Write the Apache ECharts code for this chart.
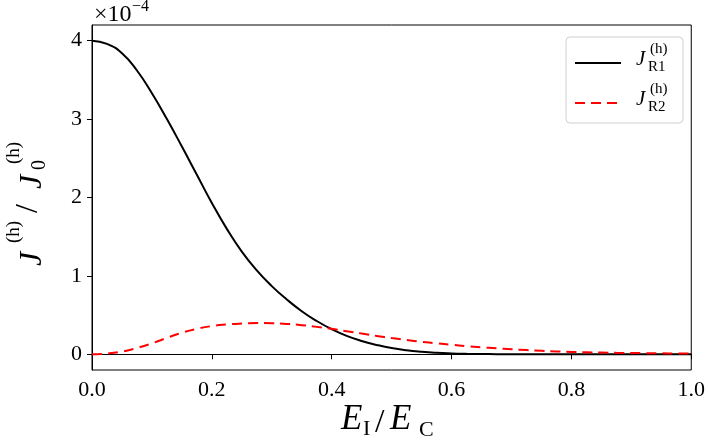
<!DOCTYPE html>
<html>
<head>
<meta charset="utf-8">
<script src="https://cdn.jsdelivr.net/npm/echarts@6/dist/echarts.min.js"></script>
<style>
html,body{margin:0;padding:0;background:#fff;}
#chart{width:708px;height:446px;}
</style>
</head>
<body>
<div id="chart"></div>
<script>
// E_I / E_C values
const eI = [0, 0.025, 0.05, 0.075, 0.1, 0.125, 0.15, 0.175, 0.2, 0.225, 0.25, 0.275, 0.3, 0.325, 0.35, 0.375, 0.4, 0.425, 0.45, 0.475, 0.5, 0.525, 0.55, 0.575, 0.6, 0.625, 0.65, 0.675, 0.7, 0.725, 0.75, 0.775, 0.8, 0.825, 0.85, 0.875, 0.9, 0.925, 0.95, 0.975, 1.0];
// J_R1^(h) in units of 1e-4
const jR1 = [4.00, 3.96, 3.84, 3.62, 3.33, 3.00, 2.65, 2.29, 1.93, 1.60, 1.31, 1.07, 0.87, 0.70, 0.55, 0.425, 0.32, 0.235, 0.17, 0.12, 0.08, 0.052, 0.033, 0.02, 0.012, 0.007, 0.004, 0.002, 0.001, 0, 0, 0, 0, 0, 0, 0, 0, 0, 0, 0, 0];
// J_R2^(h) in units of 1e-4
const jR2 = [0, 0.01, 0.035, 0.08, 0.14, 0.21, 0.275, 0.325, 0.36, 0.38, 0.392, 0.398, 0.397, 0.388, 0.372, 0.35, 0.325, 0.295, 0.265, 0.235, 0.207, 0.182, 0.16, 0.14, 0.122, 0.105, 0.09, 0.076, 0.064, 0.054, 0.045, 0.037, 0.031, 0.026, 0.022, 0.019, 0.017, 0.015, 0.013, 0.011, 0.01];
const yTicks = [0, 1, 2, 3, 4];
const xTicks = [0, 0.2, 0.4, 0.6, 0.8, 1.0];

const SERIF = '"Liberation Serif", "DejaVu Serif", serif';

function txt(x, y, text, size, italic, z) {
  return {
    type: 'text', x: x, y: y, z: z || 100,
    style: {
      text: text,
      font: (italic ? 'italic ' : '') + size + 'px ' + SERIF,
      fill: '#000',
      textAlign: 'left', textVerticalAlign: 'middle',
      align: 'left', verticalAlign: 'middle'
    }
  };
}

const chart = echarts.init(document.getElementById('chart'), null, {renderer: 'canvas'});
const option = {
  animation: false,
  backgroundColor: '#fff',
  grid: {left: 92, right: 16, top: 25, bottom: 76, show: true, borderColor: '#000', borderWidth: 1, containLabel: false},
  xAxis: {
    type: 'value', min: 0, max: 1, interval: 0.2,
    axisLine: {show: true, lineStyle: {color: '#000', width: 1}},
    axisTick: {show: true, inside: false, length: 5, lineStyle: {color: '#000', width: 1}},
    axisLabel: {show: true, margin: 9, color: '#000', fontSize: 22, fontFamily: SERIF,
      formatter: v => v.toFixed(1)},
    splitLine: {show: false}
  },
  yAxis: {
    type: 'value', min: -0.2, max: 4.2,
    axisLine: {show: true, lineStyle: {color: '#000', width: 1}},
    axisTick: {show: true, inside: false, length: 5, customValues: yTicks, lineStyle: {color: '#000', width: 1}},
    axisLabel: {show: true, margin: 10, color: '#000', fontSize: 22, fontFamily: SERIF, customValues: yTicks,
      formatter: v => String(v)},
    splitLine: {show: false}
  },
  legend: {
    orient: 'vertical', left: 566, top: 37,
    padding: [12, 10, 6, 8], itemGap: 12, itemWidth: 46, itemHeight: 14,
    backgroundColor: '#fff', borderColor: '#d0d0d0', borderWidth: 1, borderRadius: 4,
    itemStyle: {color: 'rgba(0,0,0,0)', borderWidth: 0, opacity: 0},
    data: ['R1', 'R2'],
    formatter: () => '{b| }',
    textStyle: {lineHeight: 28, rich: {b: {width: 47, height: 28, lineHeight: 28}}}
  },
  series: [
    {name: 'R1', type: 'line', data: eI.map((x, i) => [x, jR1[i]]), symbol: 'none', smooth: 0.5,
      lineStyle: {color: '#000', width: 2}, itemStyle: {color: '#000'}, z: 2},
    {name: 'R2', type: 'line', data: eI.map((x, i) => [x, jR2[i]]), symbol: 'none', smooth: 0.5,
      lineStyle: {color: '#ff0000', width: 2, type: [10, 6]}, itemStyle: {color: '#ff0000'}, z: 3}
  ],
  graphic: [
    // offset text
    txt(94, 14.5, '×10', 24, false),
    txt(132, 7, '−4', 16, false),
    // x axis label
    txt(341, 420, 'E', 35, true),
    txt(363, 429.5, 'I', 22, false),
    txt(375, 423.5, '/', 34, false),
    txt(390, 420, 'E', 35, true),
    txt(419, 430.5, 'C', 22, false),
    // y axis label (rotated)
    {
      type: 'group', x: 42, y: 267, rotation: Math.PI / 2, z: 100,
      children: [
        txt(1, -9, 'J', 32, true),
        txt(24, -28, '(h)', 19, false),
        txt(54, -13, '/', 32, false),
        txt(78, -9, 'J', 32, true),
        txt(97, -2, '0', 20, false),
        txt(103, -28, '(h)', 19, false)
      ]
    },
    // legend labels
    txt(636, 59, 'J', 21, true),
    txt(648, 67.5, 'R1', 15, false),
    txt(650, 49.5, '(h)', 15, false),
    txt(636, 99, 'J', 21, true),
    txt(648, 107.5, 'R2', 15, false),
    txt(650, 89.5, '(h)', 15, false)
  ]
};
chart.setOption(option);
</script>
</body>
</html>
